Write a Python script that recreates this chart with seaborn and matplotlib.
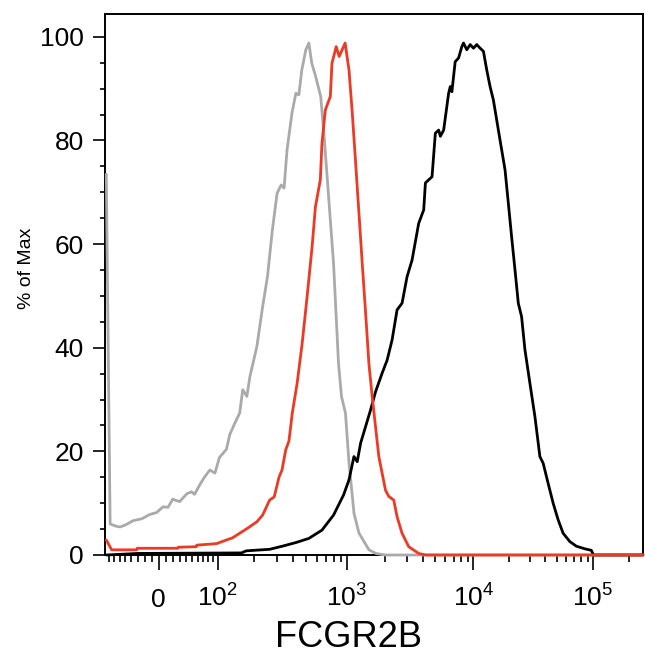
import numpy as np
import pandas as pd
import matplotlib
matplotlib.use("Agg")
import matplotlib.pyplot as plt
from matplotlib.ticker import FixedLocator, FixedFormatter, NullFormatter
import seaborn as sns

# FCGR2B histograms, x = fluorescence intensity, y = % of max
gray_x = [-86, -78, -68, -59, -48, -38, -24, -13, -3, 6, 13, 20, 23, 30, 41, 49, 54, 63,
          72, 83, 94, 104, 120, 128, 141, 155, 164, 177, 187, 212, 235, 256, 279, 303,
          325, 342, 360, 392, 419, 441, 464, 497, 523, 550, 588, 640, 673, 732, 796,
          866, 911, 974, 1038, 1137, 1245, 1492, 1694, 2000, 262144]
gray_y = [73.5, 6.0, 5.6, 5.4, 5.9, 6.6, 7.0, 7.8, 8.2, 9.3, 9.2, 10.8, 10.6, 10.3, 11.8,
          12.2, 11.7, 13.5, 15.0, 16.4, 15.8, 18.8, 20.4, 23.2, 25.4, 27.4, 31.9, 30.6,
          34.4, 40.2, 47.9, 53.7, 62.7, 69.8, 71.4, 70.8, 78.2, 85.3, 89.1, 88.8, 93.6,
          97.5, 98.8, 94.9, 92.3, 88.5, 82.0, 69.2, 56.3, 37.0, 30.6, 27.4, 17.7, 8.0,
          4.2, 1.0, 0.3, 0, 0]

red_x = [-86, -75, -32, -31, 27, 28, 57, 58, 98, 120, 135, 155, 180, 212, 235, 266, 288,
         314, 330, 352, 372, 394, 428, 467, 508, 553, 585, 636, 654, 693, 754, 775, 833,
         876, 969, 1037, 1101, 1171, 1243, 1320, 1404, 1490, 1582, 1786, 2017, 2141,
         2345, 2489, 2725, 3078, 3690, 4200, 262144]
red_y = [2.9, 1.0, 1.0, 1.3, 1.3, 1.5, 1.6, 1.9, 2.2, 2.9, 3.3, 4.2, 5.2, 6.4, 7.7, 10.6,
         11.2, 15.1, 16.4, 20.3, 22.0, 27.4, 33.1, 40.9, 49.9, 59.5, 67.2, 72.4, 79.5,
         85.9, 88.5, 94.9, 98.1, 96.2, 98.8, 93.6, 85.3, 75.6, 66.0, 56.3, 46.7, 37.0,
         30.6, 19.0, 12.5, 11.3, 10.6, 7.4, 4.2, 1.6, 0.3, 0, 0]

black_x = [-86, -30, 160, 175, 266, 332, 419, 523, 654, 796, 944, 1037, 1135, 1205, 1282,
           1404, 1537, 1683, 1897, 2077, 2274, 2490, 2727, 2986, 3270, 3690, 4044, 4170,
           4429, 4705, 4997, 5308, 5473, 5813, 6362, 6560, 6752, 7170, 7620, 8092, 8337,
           8855, 9420, 10000, 10654, 11370, 12115, 12912, 13770, 14678, 16155, 17215,
           18375, 19574, 20855, 22255, 23714, 25264, 26961, 29680, 32673, 35950, 38312,
           42170, 46416, 51090, 56234, 63940, 72590, 85280, 96830, 101000, 262144]
black_y = [0, 0.3, 0.4, 0.8, 1.1, 1.7, 2.4, 3.2, 4.8, 7.7, 11.6, 14.5, 19.0, 18.0, 21.6,
           24.8, 28.0, 31.5, 35.1, 37.6, 41.5, 47.3, 48.6, 53.7, 56.9, 64.0, 66.6, 71.8,
           72.4, 73.0, 81.4, 82.0, 80.8, 82.0, 89.1, 90.4, 89.4, 95.2, 95.9, 98.1, 98.8,
           97.5, 98.5, 97.8, 98.5, 97.8, 97.2, 93.6, 90.4, 87.8, 82.0, 78.2, 74.3, 67.9,
           61.4, 55.0, 48.6, 46.0, 39.6, 33.1, 26.7, 19.0, 17.7, 13.8, 10.0, 6.8, 4.2,
           2.6, 1.7, 1.2, 0.9, 0, 0]

major_vals = [0, 1e2, 1e3, 1e4, 1e5]
major_labels = ['0', r'$\mathregular{10^{2}}$', r'$\mathregular{10^{3}}$',
                r'$\mathregular{10^{4}}$', r'$\mathregular{10^{5}}$']

# biexponential-like display: linear around zero, log above ~100
LIN_WIDTH = 75.0
KNOT_T = np.arcsinh(np.array([0, 1e2, 1e3, 1e4, 1e5, 1e7]) / LIN_WIDTH)
KNOT_P = np.array([0, 59, 189, 316, 436, 676], float)


def biex_fwd(x):
    x = np.asarray(x, float)
    t = np.arcsinh(np.abs(x) / LIN_WIDTH)
    return np.sign(x) * np.interp(t, KNOT_T, KNOT_P)


def biex_inv(p):
    p = np.asarray(p, float)
    t = np.interp(np.abs(p), KNOT_P, KNOT_T)
    return np.sign(p) * LIN_WIDTH * np.sinh(t)


minor_vals = [s * m for s in (-1, 1) for m in range(10, 100, 10)]
minor_vals += [m * 10 ** e for e in (2, 3, 4) for m in range(2, 10)]
minor_vals += [2e5]

sns.set_style("ticks")
plt.rcParams['font.family'] = ['Liberation Sans', 'DejaVu Sans']
plt.rcParams['mathtext.fontset'] = 'custom'
plt.rcParams['mathtext.rm'] = 'Liberation Sans'

fig = plt.figure(figsize=(6.45, 6.54), dpi=100)
ax = fig.add_axes([105 / 645, 99 / 654, 538 / 645, 541 / 654])
ax.set_xscale('function', functions=(biex_fwd, biex_inv))

series = [(gray_x, gray_y, '#aaaaaa'), (black_x, black_y, 'black'), (red_x, red_y, '#ec3a24')]
for xs, ys, col in series:
    df = pd.DataFrame({'x': xs, 'y': ys})
    sns.lineplot(data=df, x='x', y='y', ax=ax, color=col, linewidth=2.0,
                 estimator=None, sort=False, clip_on=False, zorder=3)

ax.set_xlim(float(biex_inv(-54)), 262144)
ax.set_ylim(0, 104.4)

ax.xaxis.set_major_locator(FixedLocator(major_vals))
ax.xaxis.set_major_formatter(FixedFormatter(major_labels))
ax.xaxis.set_minor_locator(FixedLocator(minor_vals))
ax.xaxis.set_minor_formatter(NullFormatter())
ax.set_yticks(range(0, 101, 20))
ax.set_yticks(range(0, 101, 5), minor=True)

ax.tick_params(axis='both', which='both', color='black', labelcolor='black', width=1.2)
ax.tick_params(axis='x', which='major', length=10.8, pad=26.5, labelsize=19)
ax.tick_params(axis='x', which='minor', length=5)
ax.tick_params(axis='y', which='major', length=8.6, pad=6.5, labelsize=19)
ax.tick_params(axis='y', which='minor', length=3.6)
for t in ax.xaxis.get_major_ticks():
    t.label1.set_verticalalignment('baseline')

for sp in ax.spines.values():
    sp.set_linewidth(1.4)
    sp.set_color('black')

ax.set_xlabel('FCGR2B', fontsize=26, color='black')
ax.xaxis.label.set_verticalalignment('baseline')
ax.xaxis.set_label_coords(0.452, -0.170)
ax.set_ylabel('% of Max', fontsize=14, color='black')
ax.yaxis.set_label_coords(-0.13, 0.53)

fig.savefig('out.png', dpi=100)
